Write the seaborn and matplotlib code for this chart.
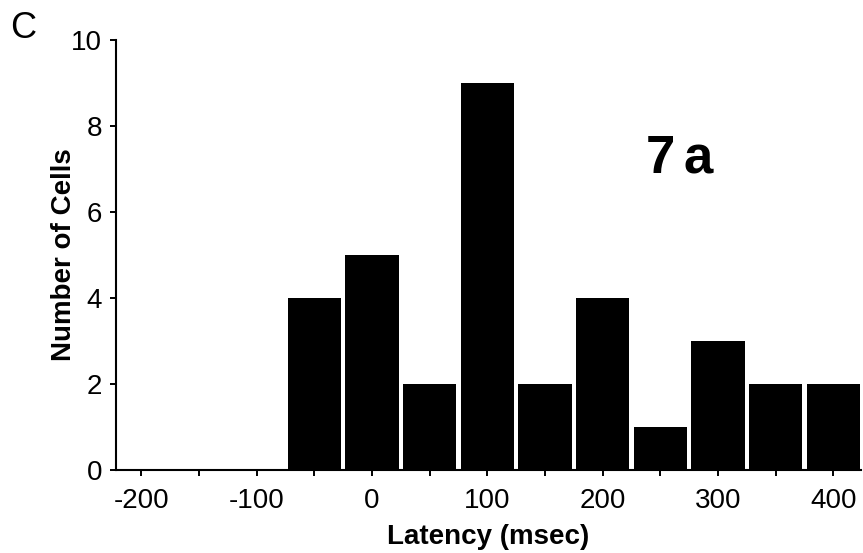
import matplotlib
matplotlib.use("Agg")
import matplotlib.pyplot as plt
import seaborn as sns
import pandas as pd
from matplotlib.ticker import MultipleLocator

# Latency bins (msec, bin centres) and the number of cells in each
latency = [-200, -150, -100, -50, 0, 50, 100, 150, 200, 250, 300, 350, 400]
cells = [0, 0, 0, 4, 5, 2, 9, 2, 4, 1, 3, 2, 2]
x_tick_labels = [-200, -100, 0, 100, 200, 300, 400]
y_tick_labels = [0, 2, 4, 6, 8, 10]

sns.set_style("ticks")
plt.rcParams["font.family"] = ["Liberation Sans", "DejaVu Sans"]
plt.rcParams["text.color"] = "black"
plt.rcParams["axes.labelcolor"] = "black"

df = pd.DataFrame({"latency": latency, "cells": cells})

fig = plt.figure(figsize=(8.63, 5.53), dpi=100)
ax = fig.add_axes([0.1344, 0.150, 0.8633, 0.7777])

sns.barplot(data=df, x="latency", y="cells", native_scale=True, width=0.92,
            color="black", saturation=1, edgecolor="none", linewidth=0, ax=ax)

ax.set_xlim(-222, 424)
ax.set_ylim(0, 10)
ax.set_xticks(x_tick_labels)
ax.set_xticklabels([str(v) for v in x_tick_labels])
ax.xaxis.set_minor_locator(MultipleLocator(50))
ax.set_yticks(y_tick_labels)
ax.set_yticklabels([str(v) for v in y_tick_labels])

for side in ("top", "right"):
    ax.spines[side].set_visible(False)
for side in ("left", "bottom"):
    ax.spines[side].set_linewidth(1.5)
    ax.spines[side].set_color("black")

ax.tick_params(axis="both", which="both", direction="out", color="black",
               width=1.4, labelsize=20, labelcolor="black")
ax.tick_params(axis="x", which="both", length=4, pad=9)
ax.tick_params(axis="y", which="major", length=4, pad=6)

ax.set_xlabel("Latency (msec)", fontsize=20, fontweight="bold", labelpad=7)
ax.set_ylabel("Number of Cells", fontsize=20, fontweight="bold", labelpad=-4)

ax.text(237, 6.9, "7", fontsize=38, fontweight="bold", ha="left", va="baseline")
ax.text(270, 6.9, "a", fontsize=38, fontweight="bold", ha="left", va="baseline")
fig.text(10 / 863, 1 - 38 / 553, "C", fontsize=26, ha="left", va="baseline")

fig.savefig("out.png", dpi=100)
